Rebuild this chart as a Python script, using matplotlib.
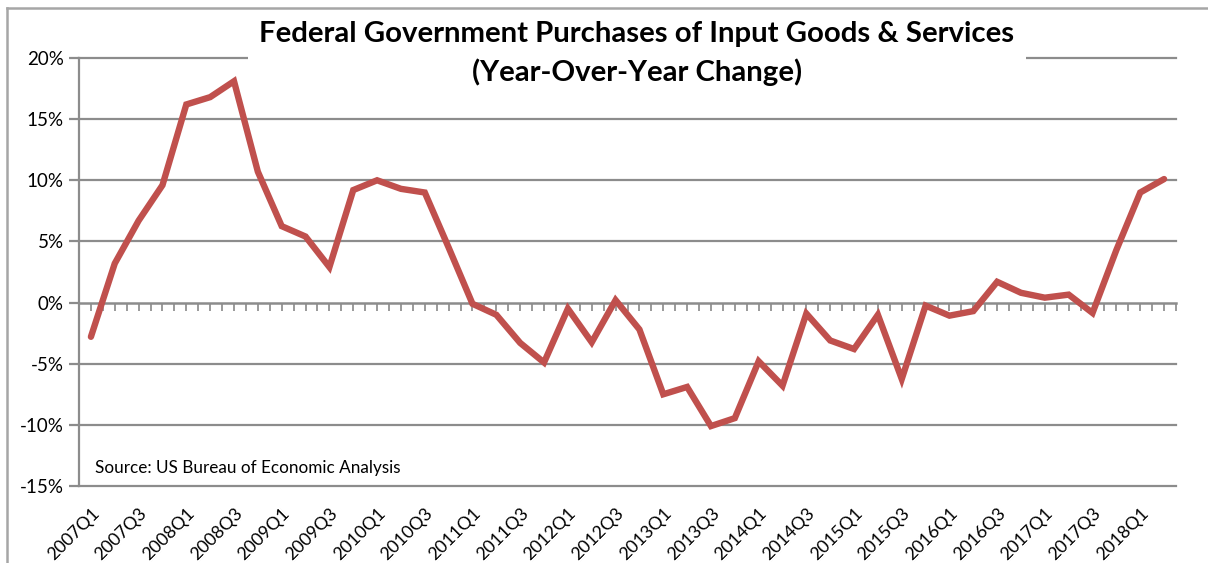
import matplotlib
matplotlib.use("Agg")
import matplotlib.pyplot as plt
import numpy as np
from matplotlib.lines import Line2D
from matplotlib.patches import Rectangle

quarters = [
    "2007Q1", "2007Q2", "2007Q3", "2007Q4",
    "2008Q1", "2008Q2", "2008Q3", "2008Q4",
    "2009Q1", "2009Q2", "2009Q3", "2009Q4",
    "2010Q1", "2010Q2", "2010Q3", "2010Q4",
    "2011Q1", "2011Q2", "2011Q3", "2011Q4",
    "2012Q1", "2012Q2", "2012Q3", "2012Q4",
    "2013Q1", "2013Q2", "2013Q3", "2013Q4",
    "2014Q1", "2014Q2", "2014Q3", "2014Q4",
    "2015Q1", "2015Q2", "2015Q3", "2015Q4",
    "2016Q1", "2016Q2", "2016Q3", "2016Q4",
    "2017Q1", "2017Q2", "2017Q3", "2017Q4",
    "2018Q1", "2018Q2",
]

yoy_change = [
    -2.8, 3.2, 6.7, 9.6,
    16.2, 16.8, 18.1, 10.7,
    6.25, 5.4, 2.9, 9.2,
    10.0, 9.3, 9.0, 4.5,
    -0.1, -1.0, -3.3, -4.9,
    -0.5, -3.25, 0.2, -2.2,
    -7.5, -6.9, -10.1, -9.45,
    -4.8, -6.8, -0.9, -3.1,
    -3.8, -1.0, -6.25, -0.25,
    -1.07, -0.7, 1.7, 0.8,
    0.4, 0.65, -0.85, 4.3,
    9.0, 10.1,
]

y_ticks = [-15, -10, -5, 0, 5, 10, 15, 20]
y_tick_labels = ["-15%", "-10%", "-5%", "0%", "5%", "10%", "15%", "20%"]

title_line1 = "Federal Government Purchases of Input Goods & Services"
title_line2 = "(Year-Over-Year Change)"
source_text = "Source: US Bureau of Economic Analysis"

plt.rcParams["font.family"] = ["Lato", "DejaVu Sans"]

W, H = 1208, 563
fig = plt.figure(figsize=(W / 100, H / 100), dpi=100)
fig.patch.set_facecolor("white")

ax = fig.add_axes([79 / W, 1 - 486 / H, (1176 - 79) / W, (486 - 58) / H])
x = np.arange(len(quarters))
n = len(quarters)

grid_color = "#8c8c8c"
ax.set_xlim(-0.5, n - 0.5)
ax.set_ylim(y_ticks[0], y_ticks[-1])

for yv in y_ticks:
    if yv != 0:
        ax.axhline(yv, color=grid_color, lw=1.6, zorder=1, clip_on=False)

ax.plot(x, yoy_change, color="#C0504D", lw=4.6, solid_joinstyle="miter",
        solid_capstyle="round", zorder=3)

ax.set_yticks(y_ticks)
ax.set_yticklabels(y_tick_labels, fontsize=13.5)
ax.tick_params(axis="y", direction="out", length=7, width=1.6, color=grid_color, pad=4)

ax.set_xticks(x[::2])
ax.set_xticklabels(quarters[::2], rotation=45, ha="right", va="top",
                   rotation_mode="anchor", fontsize=12.8)
ax.tick_params(axis="x", length=0, pad=14)

for s in ["top", "right", "bottom"]:
    ax.spines[s].set_visible(False)
ax.spines["left"].set_color(grid_color)
ax.spines["left"].set_linewidth(1.6)

# zero-crossing category axis with small downward ticks
zero_frac = (0 - y_ticks[0]) / (y_ticks[-1] - y_ticks[0])
sec = ax.secondary_xaxis(zero_frac)
sec.set_xticks(np.arange(-0.5, n, 0.5))
sec.set_xticklabels([])
sec.tick_params(axis="x", direction="out", length=6, width=1.4, color="#9a9a9a")
sec.spines["bottom"].set_color(grid_color)
sec.spines["bottom"].set_linewidth(1.8)

fig.text(95 / W, 1 - 468 / H, source_text, fontsize=12.3, va="center")

# title box (white) covering the top gridline
fig.add_artist(Rectangle((248 / W, 1 - 95 / H), (1026 - 248) / W, (95 - 14) / H,
                         transform=fig.transFigure, facecolor="white",
                         edgecolor="none", zorder=5))
fig.text(637 / W, 1 - 34 / H, title_line1, ha="center", va="center",
         fontsize=21.2, fontweight="bold", zorder=10)
fig.text(637 / W, 1 - 72 / H, title_line2, ha="center", va="center",
         fontsize=21.2, fontweight="bold", zorder=10)

# outer chart frame (top and left edges visible)
fig.add_artist(Line2D([7 / W, 7 / W], [0, 1 - 8 / H], transform=fig.transFigure,
                      color="#a6a6a6", lw=1.8, zorder=6))
fig.add_artist(Line2D([7 / W, 1], [1 - 8 / H, 1 - 8 / H], transform=fig.transFigure,
                      color="#a6a6a6", lw=1.8, zorder=6))

fig.savefig("out.png", dpi=100, facecolor="white")
